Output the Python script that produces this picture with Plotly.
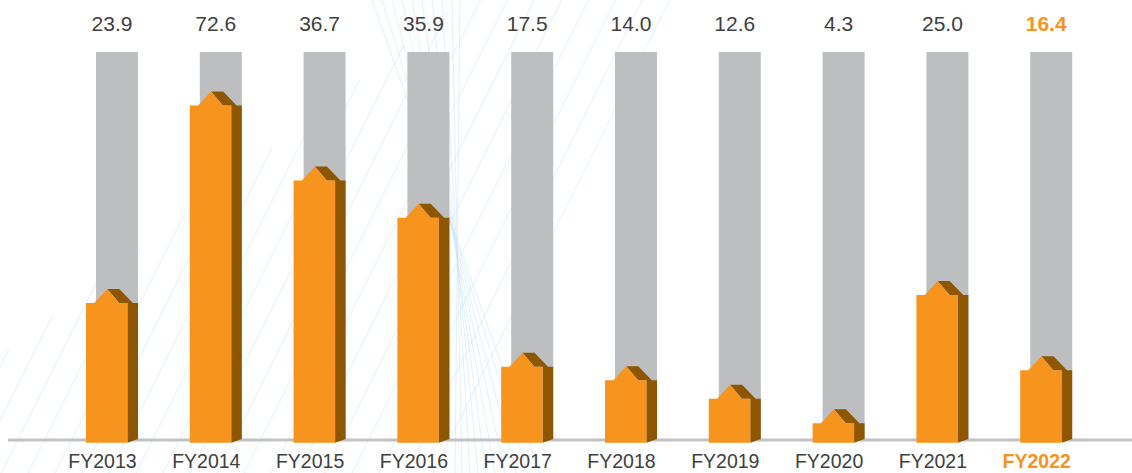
import plotly.graph_objects as go

# ---- data -------------------------------------------------------------
years = ["FY2013", "FY2014", "FY2015", "FY2016", "FY2017",
         "FY2018", "FY2019", "FY2020", "FY2021", "FY2022"]
value_labels = ["23.9", "72.6", "36.7", "35.9", "17.5",
                "14.0", "12.6", "4.3", "25.0", "16.4"]
# height of each orange column on a 0-100 track scale
bar_height = [35.3, 86.2, 66.9, 57.3, 18.9, 15.4, 10.6, 4.3, 37.4, 18.0]
track_max = 100

# ---- styling / geometry ----------------------------------------------
W, H = 1132, 473
ORANGE = "#F7941D"
BROWN = "#8F5600"
TRACK = "#BCBEC0"
BASE = "#C2C2C2"
TEXT = "#404040"
FONT = "Liberation Sans"

PX_X = 103.8            # pixels per category step
X0_PX = 102.5           # pixel centre of first category
PX_Y = 3.88             # pixels per track unit
Y0_PX = 440             # baseline pixel row

def px(dx):             # horizontal pixel offset -> axis units
    return dx / PX_X

def py(dy):             # vertical pixel offset -> axis units
    return dy / PX_Y

x_range = [-X0_PX / PX_X, (W - X0_PX) / PX_X]
y_range = [-(H - Y0_PX) / PX_Y, Y0_PX / PX_Y]

# offsets of the column parts relative to the category centre (pixels)
TRACK_L, TRACK_R = -6.5, 35.5
FRONT_L, FRONT_R = -16.5, 25.0
FLAT = 8.3
PEAK = 4.8
ROOF_TOP_R = 16.8
ROOF_END = 30.3
SIDE_R = 35.5
RIDGE = 14.0
FRONT_BOTTOM = -2.7
SIDE_BOTTOM = 1.0

fig = go.Figure()

# ---- decorative background hatching ------------------------------------
HATCH = "rgba(200,230,246,0.55)"
shapes = []
for k in range(20):
    xb = -80 + 27 * k
    length = min(H + 60, 90 + 1.25 * (xb + 80))
    shapes.append(dict(type="line", xref="paper", yref="paper",
                       x0=xb / W, y0=0, x1=(xb + 0.5 * length) / W,
                       y1=length / H,
                       line=dict(color=HATCH, width=1), layer="below"))
top_pts = [372, 382, 392, 402, 412, 422, 432, 442, 452, 460]
bot_pts = [540, 528, 516, 505, 495, 486, 478, 470, 462, 455]
for xt, xb in zip(top_pts, bot_pts):
    shapes.append(dict(type="line", xref="paper", yref="paper",
                       x0=xt / W, y0=1, x1=xb / W, y1=0,
                       line=dict(color=HATCH, width=1), layer="below"))

# ---- baseline -------------------------------------------------------------
fig.add_trace(go.Scatter(
    x=[x_range[0] + px(8), x_range[1]], y=[0, 0], mode="lines",
    line=dict(color=BASE, width=3), hoverinfo="skip", showlegend=False))

# ---- grey tracks ---------------------------------------------------------
for i, _ in enumerate(years):
    xl, xr = i + px(TRACK_L), i + px(TRACK_R)
    fig.add_trace(go.Scatter(
        x=[xl, xr, xr, xl, xl], y=[0, 0, track_max, track_max, 0],
        fill="toself", fillcolor=TRACK, mode="none",
        hoverinfo="skip", showlegend=False))

# ---- orange columns with a pitched roof ----------------------------------
for i, (yr, h) in enumerate(zip(years, bar_height)):
    top = h + py(RIDGE)
    # shaded roof and side face
    fig.add_trace(go.Scatter(
        x=[i + px(PEAK), i + px(ROOF_TOP_R), i + px(ROOF_END),
           i + px(SIDE_R), i + px(SIDE_R), i + px(FRONT_R),
           i + px(FRONT_R), i + px(FRONT_R - FLAT), i + px(PEAK)],
        y=[top, top, h, h, py(SIDE_BOTTOM), py(FRONT_BOTTOM), h, h, top],
        fill="toself", fillcolor=BROWN, mode="none",
        hoverinfo="skip", showlegend=False))
    # front face
    fig.add_trace(go.Scatter(
        x=[i + px(FRONT_L), i + px(FRONT_L), i + px(FRONT_L + FLAT),
           i + px(PEAK), i + px(FRONT_R - FLAT), i + px(FRONT_R),
           i + px(FRONT_R), i + px(FRONT_L)],
        y=[py(FRONT_BOTTOM), h, h, top, h, h, py(FRONT_BOTTOM),
           py(FRONT_BOTTOM)],
        fill="toself", fillcolor=ORANGE, mode="none",
        hovertemplate=f"{yr}<extra></extra>", showlegend=False))

# ---- labels --------------------------------------------------------------
last = len(years) - 1
label_colors = [TEXT] * last + [ORANGE]
label_weights = ["normal"] * last + ["bold"]

fig.add_trace(go.Scatter(
    x=[i + px(9.5) for i in range(len(years))],
    y=[py(Y0_PX - 25.5)] * len(years),
    mode="text", text=value_labels, textposition="middle center",
    textfont=dict(family=FONT, size=21, color=label_colors,
                  weight=label_weights),
    hoverinfo="skip", showlegend=False))

fig.add_trace(go.Scatter(
    x=list(range(len(years))),
    y=[-py(463.5 - Y0_PX)] * len(years),
    mode="text", text=years, textposition="middle center",
    textfont=dict(family=FONT, size=19.5, color=label_colors,
                  weight=label_weights),
    hoverinfo="skip", showlegend=False))

fig.update_layout(
    width=W, height=H,
    margin=dict(l=0, r=0, t=0, b=0),
    paper_bgcolor="white", plot_bgcolor="white",
    shapes=shapes,
    xaxis=dict(range=x_range, visible=False, fixedrange=True),
    yaxis=dict(range=y_range, visible=False, fixedrange=True),
    showlegend=False,
)

fig.write_html("out.html", config={"displayModeBar": False})
